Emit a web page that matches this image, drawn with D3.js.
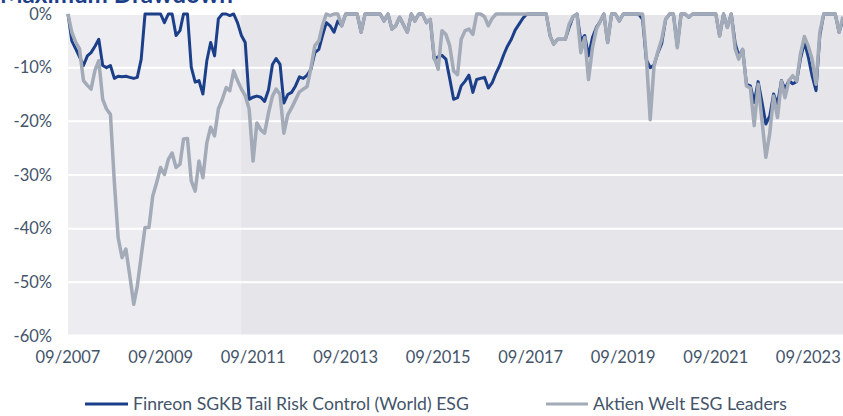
<!DOCTYPE html>
<html><head><meta charset="utf-8">
<script src="https://cdn.jsdelivr.net/npm/d3@7"></script>
<style>
body{margin:0;background:#fff;}
svg{display:block;font-family:Lato,"Open Sans",sans-serif;}
</style>
</head><body>
<svg id="chart" width="843" height="416"></svg>
<script>
// ---- data ----
const firstMonth = "2007-09";
const lastMonth = "2024-06";
const backtestEnd = "2011-06";
const title = "Maximum Drawdown";
const seriesNames = ["Finreon SGKB Tail Risk Control (World) ESG", "Aktien Welt ESG Leaders"];
const yTicks = [0, -10, -20, -30, -40, -50, -60];
const xTickLabels = ["09/2007","09/2009","09/2011","09/2013","09/2015","09/2017","09/2019","09/2021","09/2023"];

// monthly drawdown in %, from 09/2007
const finreon = [
  0,-5.0,-6.5,-8.0,-9.6,-7.8,-7.2,-6.0,-4.7,-9.6,-10.0,-9.6,
  -12.0,-11.6,-11.7,-11.6,-11.8,-12.0,-11.8,-8.4,0,0,0,0,
  0,-1.6,0,0,-4.0,-3.1,0,0,-9.9,-12.7,-12.4,-14.9,
  -8.7,-5.3,-7.8,-0.9,0,0,-0.3,0,-1.6,-4.0,-5.3,-15.9,
  -15.5,-15.3,-15.5,-16.3,-14.1,-9.4,-8.3,-9.4,-16.6,-15.0,-14.6,-13.4,
  -11.7,-12.0,-11.4,-10.3,-7.2,-6.6,-4.1,-1.6,-2.2,-3.4,-1.3,-2.2,
  0,0,0,0,-3.4,0,0,0,0,0,-1.3,0,
  -2.8,-2.2,-0.6,-2.0,-3.4,0,-1.3,0,0,-1.6,-1.0,-8.4,
  -8.0,-7.7,-8.4,-12.0,-15.9,-15.6,-13.4,-12.5,-11.4,-14.6,-12.2,-12.0,
  -11.8,-13.8,-12.8,-11.0,-9.5,-7.5,-6.0,-4.7,-3.0,-1.9,-0.8,0,
  0,0,0,0,0,-4.1,-5.6,-4.7,-4.7,-4.7,-2.5,-0.5,
  0,-5.0,-4.0,-7.8,-4.4,-2.5,-1.5,0,-5.3,0,0,-1.3,
  0,0,0,0,0,-1.0,-8.5,-10.0,-9.5,-7.2,-5.5,-1.0,
  0,0,-6.0,0,0,-0.6,0,0,0,0,0,0,
  0,-4.1,0,-2.5,0,-5.5,-7.8,-6.6,-13.1,-13.4,-16.5,-12.6,
  -16.5,-20.5,-19.0,-14.9,-16.8,-12.4,-14.0,-12.4,-13.0,-12.6,-8.4,-5.3,
  -8.0,-11.5,-14.3,-4.0,0,0,0,0,-3.4,-1.0
];
const aktien = [
  0,-3.4,-5.3,-6.5,-12.4,-13.3,-14.0,-10.5,-8.7,-15.9,-17.7,-18.7,
  -31.4,-41.7,-45.4,-43.8,-48.8,-54.1,-50.7,-45.1,-39.8,-39.8,-33.9,-31.4,
  -28.6,-29.9,-27.1,-25.9,-28.6,-28.0,-23.3,-23.2,-31.1,-33.0,-27.4,-30.5,
  -24.0,-21.1,-22.7,-17.7,-15.9,-13.7,-14.3,-10.6,-12.4,-14.0,-15.2,-17.7,
  -27.4,-20.3,-21.6,-22.2,-18.4,-15.3,-14.0,-15.0,-22.2,-18.8,-17.5,-16.0,
  -14.5,-14.0,-13.5,-10.0,-5.9,-5.0,-2.2,0,-0.3,0,0,-2.2,
  0,0,0,0,-3.4,0,0,0,0,0,-1.3,0,
  -2.8,-2.2,-0.6,-2.0,-3.4,0,-1.3,0,0,-1.6,-1.0,-8.1,
  -10.3,-3.1,-3.8,-5.9,-10.6,-11.3,-4.7,-3.1,-2.8,-3.8,0,0,
  -0.5,-2.2,-0.8,0,0,0,0,0,0,0,0,0,
  0,0,0,0,0,-4.1,-5.6,-4.7,-4.7,-4.7,-1.9,-0.5,
  0,-7.2,-4.4,-12.2,-6.3,-2.8,-1.5,0,-5.3,0,0,-1.3,
  0,0,0,0,0,0,-7.8,-19.7,-9.7,-7.0,-4.7,-0.9,
  0,0,-6.3,0,0,-0.6,0,0,0,0,0,0,
  0,-4.1,0,-2.5,0,-6.5,-8.4,-6.6,-13.4,-13.8,-20.8,-13.1,
  -20.0,-26.7,-22.2,-15.3,-19.3,-12.5,-15.6,-12.4,-11.5,-12.5,-7.5,-4.2,
  -6.0,-8.4,-13.1,-3.4,0,0,0,0,-3.4,-0.5
];

// ---- drawing ----
const plot = {left: 68, right: 843, top: 14, bottom: 336};
const parseM = d3.timeParse("%Y-%m");
const parseLbl = d3.timeParse("%m/%Y");
const start = parseM(firstMonth);
const months = finreon.map((_, i) => d3.timeMonth.offset(start, i));

const x = d3.scaleTime().domain([start, parseM(lastMonth)]).range([plot.left, plot.right]);
const y = d3.scaleLinear().domain([-60, 0]).range([plot.bottom, plot.top]);

const svg = d3.select("#chart");
const textCol = "#44546a";
const blue = "#1c3f8a";
const grey = "#a3aab8";

// plot background
svg.append("rect").attr("x", plot.left).attr("y", plot.top)
  .attr("width", plot.right - plot.left).attr("height", plot.bottom - plot.top - 1.5)
  .attr("fill", "#e5e5ea");

// gridlines
svg.append("g").selectAll("line").data(yTicks.filter(t => t > -60)).join("line")
  .attr("x1", plot.left).attr("x2", plot.right)
  .attr("y1", d => y(d)).attr("y2", d => y(d))
  .attr("stroke", "#ffffff").attr("stroke-width", 2);

// backtest shaded region (lighter)
svg.append("rect").attr("x", plot.left).attr("y", plot.top)
  .attr("width", x(parseM(backtestEnd)) - plot.left).attr("height", plot.bottom - plot.top)
  .attr("fill", "#ffffff").attr("fill-opacity", 0.32);

// y axis labels
svg.append("g").selectAll("text").data(yTicks).join("text")
  .attr("x", 52).attr("y", d => y(d)).attr("dy", "0.35em")
  .attr("text-anchor", "end").attr("fill", textCol).attr("font-size", 16.5)
  .text(d => d + "%");

// x axis labels
svg.append("g").selectAll("text").data(xTickLabels).join("text")
  .attr("x", d => x(parseLbl(d))).attr("y", 357).attr("dy", "0.35em")
  .attr("text-anchor", "middle").attr("fill", textCol).attr("font-size", 16.5)
  .text(d => d);

// lines
const line = d3.line().x((d, i) => x(months[i])).y(d => y(d)).curve(d3.curveLinear);
svg.append("path").datum(finreon).attr("d", line)
  .attr("fill", "none").attr("stroke", blue).attr("stroke-width", 3).attr("stroke-linejoin", "round");
svg.append("path").datum(aktien).attr("d", line)
  .attr("fill", "none").attr("stroke", grey).attr("stroke-width", 3.5).attr("stroke-linejoin", "round");

// title (partly cut off at the top)
const t = svg.append("text").attr("x", 0).attr("y", 2.5)
  .attr("fill", "#1c3f8a").attr("font-weight", "bold").attr("font-size", 24)
  .text(title);
const tw = t.node().getComputedTextLength();
t.attr("font-size", 24 * 233 / tw);

// legend
const legendItems = [
  {name: seriesNames[0], color: blue, x1: 85, x2: 128, w: 336},
  {name: seriesNames[1], color: grey, x1: 546, x2: 588, w: 194}
];
const lg = svg.append("g").selectAll("g").data(legendItems).join("g");
lg.append("line").attr("x1", d => d.x1).attr("x2", d => d.x2)
  .attr("y1", 404).attr("y2", 404).attr("stroke", d => d.color).attr("stroke-width", 3);
lg.append("text").attr("x", d => d.x2 + 5).attr("y", 404).attr("dy", "0.35em")
  .attr("fill", textCol).attr("font-size", 16).text(d => d.name)
  .each(function(d) {
    const w = this.getComputedTextLength();
    d3.select(this).attr("font-size", 16 * d.w / w);
  });
</script>
</body></html>
